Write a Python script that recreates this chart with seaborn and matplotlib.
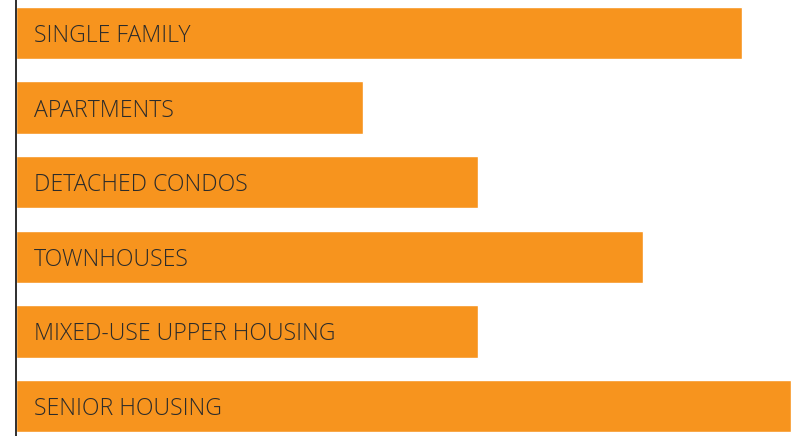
import matplotlib
matplotlib.use("Agg")
import matplotlib.pyplot as plt
import seaborn as sns
import pandas as pd

# Housing types and their relative share (percent of the largest)
categories = [
    "SINGLE FAMILY",
    "APARTMENTS",
    "DETACHED CONDOS",
    "TOWNHOUSES",
    "MIXED-USE UPPER HOUSING",
    "SENIOR HOUSING",
]
values = [93.7, 44.8, 59.6, 80.9, 59.6, 100.0]

df = pd.DataFrame({"category": categories, "value": values})

sns.set_theme(style="white")
plt.rcParams["font.family"] = ["Open Sans", "DejaVu Sans"]

fig = plt.figure(figsize=(8.04, 4.36), dpi=100)
ax = fig.add_axes([16 / 804, 0, 788 / 804, 1])

sns.barplot(data=df, x="value", y="category", orient="h",
            color="#F7941E", saturation=1, width=0.7, ax=ax)

ax.set_xlim(0, 101.7)
ax.set_ylim(5.40, -0.44)

for i, label in enumerate(categories):
    ax.annotate(label, xy=(0, i), xytext=(18, -9), textcoords="offset pixels",
                ha="left", va="baseline", fontsize=16.6, fontweight="light",
                color="#2b2b2b")

ax.set_xlabel("")
ax.set_ylabel("")
ax.set_xticks([])
ax.set_yticks([])
for side in ["top", "right", "bottom"]:
    ax.spines[side].set_visible(False)
ax.spines["left"].set_color("#333333")
ax.spines["left"].set_linewidth(1.44)

fig.savefig("out.png", dpi=100)
